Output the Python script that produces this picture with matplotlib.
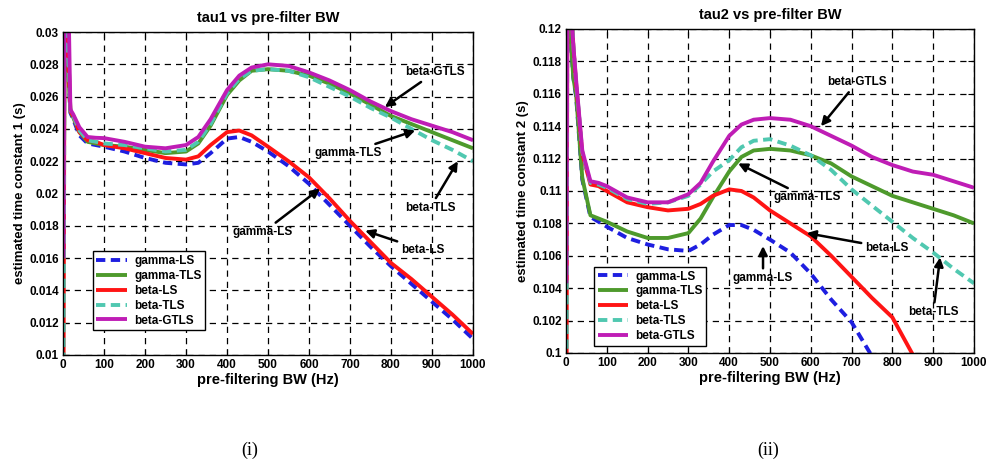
import matplotlib
matplotlib.use("Agg")
import matplotlib.pyplot as plt

plt.rcParams['font.family'] = ['Liberation Sans', 'DejaVu Sans']
plt.rcParams['font.weight'] = 'bold'

bw = [1, 4, 8, 14, 18, 25, 40, 60, 80, 100, 150, 200, 250, 300, 330, 360, 400, 430,
      460, 500, 550, 600, 650, 700, 750, 800, 850, 900, 950, 1000]

series_names = ['gamma-LS', 'gamma-TLS', 'beta-LS', 'beta-TLS', 'beta-GTLS']

# tau1 (left)
tau1_gamma_ls = [0.025, 0.032, 0.030, 0.027, 0.0250, 0.0246, 0.0236, 0.0231, 0.0230, 0.0229,
                 0.0226, 0.0222, 0.0219, 0.0218, 0.0219, 0.0225, 0.0234, 0.0235, 0.0232, 0.0226,
                 0.0217, 0.0206, 0.0193, 0.0180, 0.0167, 0.0155, 0.0144, 0.0133, 0.0122, 0.0110]
tau1_gamma_tls = [0.018, 0.028, 0.029, 0.027, 0.0251, 0.0247, 0.0238, 0.0232, 0.0231, 0.0230,
                  0.0229, 0.0227, 0.0225, 0.0226, 0.0231, 0.0242, 0.0261, 0.0270, 0.0276, 0.0277,
                  0.0276, 0.0273, 0.0268, 0.0262, 0.0255, 0.0248, 0.0243, 0.0238, 0.0233, 0.0228]
tau1_beta_ls = [0.005, 0.033, 0.031, 0.028, 0.0251, 0.0248, 0.0238, 0.0233, 0.0232, 0.0230,
                0.0228, 0.0225, 0.0222, 0.0221, 0.0223, 0.0230, 0.0238, 0.0239, 0.0236, 0.0229,
                0.0220, 0.0210, 0.0197, 0.0183, 0.0170, 0.0157, 0.0147, 0.0136, 0.0125, 0.0113]
tau1_beta_tls = [0.005, 0.033, 0.031, 0.028, 0.0251, 0.0248, 0.0239, 0.0233, 0.0232, 0.0231,
                 0.0230, 0.0228, 0.0226, 0.0227, 0.0232, 0.0243, 0.0262, 0.0271, 0.0276, 0.0277,
                 0.0276, 0.0272, 0.0266, 0.0260, 0.0253, 0.0247, 0.0240, 0.0233, 0.0227, 0.0220]
tau1_beta_gtls = [0.016, 0.034, 0.034, 0.031, 0.0252, 0.0249, 0.0241, 0.0235, 0.02345, 0.02343,
                  0.0232, 0.0229, 0.0228, 0.0230, 0.0235, 0.0246, 0.0264, 0.0273, 0.0278, 0.0280,
                  0.0279, 0.0275, 0.0270, 0.0264, 0.0257, 0.0251, 0.0246, 0.0242, 0.0238, 0.0233]

# tau2 (right)
tau2_gamma_ls = [0.13, 0.13, 0.1195, 0.1185, 0.117, 0.1158, 0.1107, 0.1084, 0.1081, 0.1078,
                 0.1071, 0.1067, 0.1064, 0.1063, 0.1067, 0.1073, 0.1079, 0.1079, 0.1076, 0.1070,
                 0.1062, 0.1049, 0.1033, 0.1019, 0.0998, 0.098, 0.096, 0.094, 0.092, 0.090]
tau2_gamma_tls = [0.13, 0.13, 0.1198, 0.1185, 0.117, 0.1159, 0.1108, 0.1085, 0.1083, 0.1081,
                  0.1075, 0.1071, 0.1071, 0.1074, 0.1083, 0.1096, 0.1112, 0.1121, 0.1125, 0.1126,
                  0.1125, 0.1122, 0.1117, 0.1109, 0.1103, 0.1097, 0.1093, 0.1089, 0.1085, 0.1080]
tau2_beta_ls = [0.09, 0.13, 0.128, 0.121, 0.119, 0.1166, 0.1123, 0.1104, 0.1103, 0.1100,
                0.1093, 0.1090, 0.1088, 0.1089, 0.1092, 0.1097, 0.1101, 0.1100, 0.1096, 0.1088,
                0.1080, 0.1072, 0.1060, 0.1047, 0.1034, 0.1022, 0.0999, 0.098, 0.096, 0.094]
tau2_beta_tls = [0.09, 0.13, 0.128, 0.121, 0.119, 0.1167, 0.1124, 0.1105, 0.1104, 0.1102,
                 0.1095, 0.1092, 0.1093, 0.1097, 0.1104, 0.1112, 0.1119, 0.1127, 0.1131, 0.1132,
                 0.1128, 0.1122, 0.1113, 0.1101, 0.1091, 0.1081, 0.1071, 0.1062, 0.1052, 0.1043]
tau2_beta_gtls = [0.1043, 0.125, 0.124, 0.1205, 0.119, 0.1168, 0.1125, 0.1106, 0.1105, 0.1103,
                  0.1096, 0.1093, 0.1093, 0.1098, 0.1105, 0.1118, 0.1134, 0.1141, 0.1144, 0.1145,
                  0.1144, 0.1140, 0.1134, 0.1128, 0.1121, 0.1116, 0.1112, 0.1110, 0.1106, 0.1102]

left_yticks = [0.01, 0.012, 0.014, 0.016, 0.018, 0.02, 0.022, 0.024, 0.026, 0.028, 0.03]
left_yticklabels = ['0.01', '0.012', '0.014', '0.016', '0.018', '0.02', '0.022', '0.024',
                    '0.026', '0.028', '0.03']
right_yticks = [0.1, 0.102, 0.104, 0.106, 0.108, 0.11, 0.112, 0.114, 0.116, 0.118, 0.12]
right_yticklabels = ['0.1', '0.102', '0.104', '0.106', '0.108', '0.11', '0.112', '0.114',
                     '0.116', '0.118', '0.12']
xticks = [0, 100, 200, 300, 400, 500, 600, 700, 800, 900, 1000]

colors = ['#1e1ee0', '#4e9a2c', '#ff1414', '#50c8b0', '#bf1db5']
styles = [(0, (2.4, 1.4)), '-', '-', (0, (2.4, 1.4)), '-']

# annotations: (label, tip_x, tip_y, text_x, text_y)
left_annots = [
    ('beta-GTLS', 785, 0.02535, 907, 0.0275),
    ('gamma-TLS', 859, 0.0239, 695, 0.0225),
    ('beta-TLS', 963, 0.0220, 895, 0.0191),
    ('beta-LS', 737, 0.0177, 878, 0.0165),
    ('gamma-LS', 627, 0.0203, 488, 0.0176),
]
right_annots = [
    ('beta-GTLS', 625, 0.1140, 713, 0.1167),
    ('gamma-TLS', 422, 0.1117, 590, 0.1096),
    ('beta-LS', 590, 0.1074, 787, 0.1065),
    ('beta-TLS', 917, 0.1059, 900, 0.1025),
    ('gamma-LS', 483, 0.1066, 483, 0.1046),
]

fig = plt.figure(figsize=(9.86, 4.66), dpi=100)
axL = fig.add_axes([0.0639, 0.2382, 0.4158, 0.6931])
axR = fig.add_axes([0.5740, 0.2425, 0.4138, 0.6953])


def draw(ax, ys, yticks, yticklabels, ylim, title, ylabel, annots, legend_anchor):
    for name, y, c, ls in zip(series_names, ys, colors, styles):
        ax.plot(bw, y, color=c, linestyle=ls, lw=2.8, label=name, solid_capstyle='butt')
    ax.set_xlim(0, 1000)
    ax.set_ylim(*ylim)
    ax.set_xticks(xticks)
    ax.set_xticklabels([str(v) for v in xticks])
    ax.set_yticks(yticks)
    ax.set_yticklabels(yticklabels)
    ax.tick_params(direction='in', length=4, labelsize=8.5, top=True, right=True, pad=3)
    for lab in ax.get_xticklabels() + ax.get_yticklabels():
        lab.set_fontweight('bold')
    ax.grid(True, color='black', linestyle=(0, (5, 4)), lw=0.9)
    for sp in ax.spines.values():
        sp.set_linewidth(1.0)
    ax.set_title(title, fontsize=10.5, fontweight='bold', pad=7)
    ax.set_xlabel('pre-filtering BW (Hz)', fontsize=10.5, fontweight='bold', labelpad=1)
    ax.set_ylabel(ylabel, fontsize=9.5, fontweight='bold', labelpad=2)
    for lab, tx, ty, sx, sy in annots:
        ax.annotate(lab, xy=(tx, ty), xytext=(sx, sy), fontsize=8.5, fontweight='bold',
                    ha='center', va='center',
                    arrowprops=dict(arrowstyle='-|>', color='black', lw=1.8,
                                    mutation_scale=13, shrinkA=1, shrinkB=0))
    leg = ax.legend(loc='lower left', bbox_to_anchor=legend_anchor, fontsize=8.5,
                    handlelength=2.6, labelspacing=0.25, borderpad=0.3,
                    handletextpad=0.6, borderaxespad=0, fancybox=False,
                    edgecolor='black', framealpha=1)
    leg.get_frame().set_linewidth(1.0)
    for t in leg.get_texts():
        t.set_fontweight('bold')


draw(axL, [tau1_gamma_ls, tau1_gamma_tls, tau1_beta_ls, tau1_beta_tls, tau1_beta_gtls],
     left_yticks, left_yticklabels, (0.01, 0.03), 'tau1 vs pre-filter BW',
     'estimated time constant 1 (s)', left_annots, (0.073, 0.077))
draw(axR, [tau2_gamma_ls, tau2_gamma_tls, tau2_beta_ls, tau2_beta_tls, tau2_beta_gtls],
     right_yticks, right_yticklabels, (0.1, 0.12), 'tau2 vs pre-filter BW',
     'estimated time constant 2 (s)', right_annots, (0.069, 0.022))

fig.text(250 / 986, 1 - 450 / 466, '(i)', family='Liberation Serif', fontsize=13,
         fontweight='normal', ha='center', va='center')
fig.text(768 / 986, 1 - 450 / 466, '(ii)', family='Liberation Serif', fontsize=13,
         fontweight='normal', ha='center', va='center')

fig.savefig('out.png', dpi=100)
